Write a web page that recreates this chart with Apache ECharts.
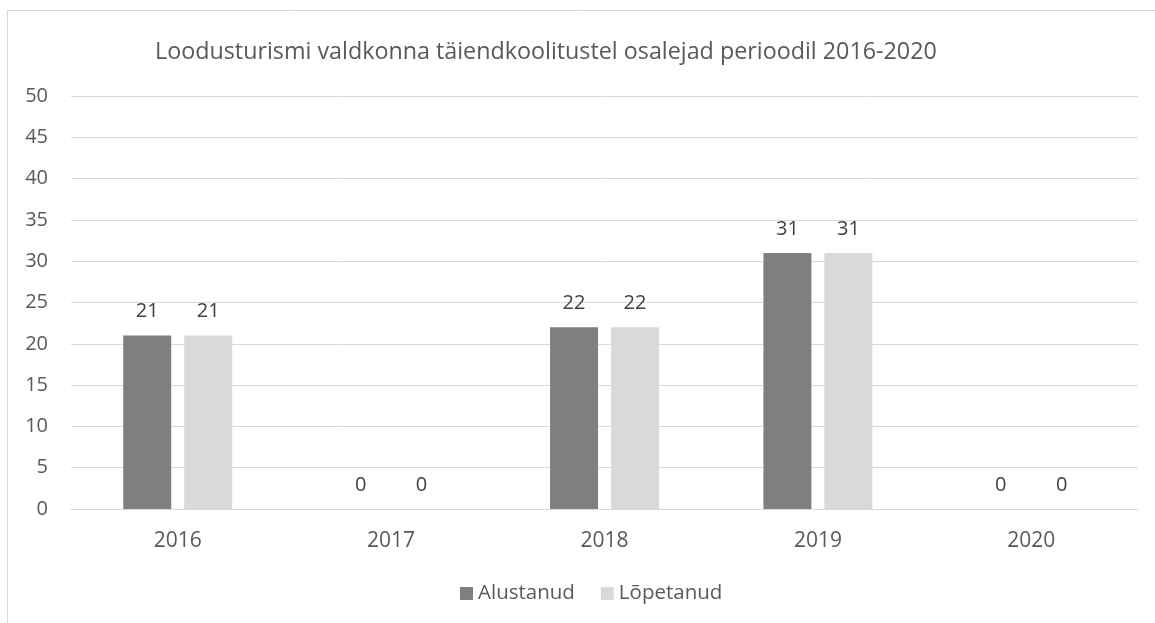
<!DOCTYPE html>
<html>
<head>
<meta charset="utf-8">
<script src="https://cdn.jsdelivr.net/npm/echarts@6/dist/echarts.min.js"></script>
<style>
  html, body { margin: 0; padding: 0; background: #fff; }
  #chart { width: 1155px; height: 623px; }
</style>
</head>
<body>
<div id="chart"></div>
<script>
// Participants in nature-tourism continuing education, 2016-2020
const years = ['2016', '2017', '2018', '2019', '2020'];
const alustanud = [21, 0, 22, 31, 0];
const lopetanud = [21, 0, 22, 31, 0];
const titleText = 'Loodusturismi valdkonna täiendkoolitustel osalejad perioodil 2016-2020';
const seriesNames = ['Alustanud', 'Lõpetanud'];

const FONT = '"Open Sans", "Liberation Sans", sans-serif';
const TEXT = '#595959';

const chart = echarts.init(document.getElementById('chart'), null, { renderer: 'canvas' });

const labelStyle = {
  show: true,
  position: 'top',
  distance: 14,
  color: '#404040',
  fontFamily: FONT,
  fontSize: 20
};

chart.setOption({
  animation: false,
  backgroundColor: '#ffffff',
  graphic: [{
    type: 'rect',
    shape: { x: 7.5, y: 10.5, width: 1200, height: 700 },
    style: { fill: 'none', stroke: '#d9d9d9', lineWidth: 1 },
    silent: true
  }],
  title: {
    text: titleText,
    left: 150,
    top: 36,
    textStyle: { color: TEXT, fontFamily: FONT, fontSize: 23.3, fontWeight: 'normal' }
  },
  legend: {
    top: 578,
    left: 455,
    itemWidth: 13,
    itemHeight: 13,
    itemGap: 26,
    icon: 'rect',
    textStyle: { color: TEXT, fontFamily: FONT, fontSize: 20.5 },
    data: seriesNames
  },
  grid: { left: 71, right: 17, top: 96, bottom: 114 },
  xAxis: {
    type: 'category',
    data: years,
    axisLine: { show: true, lineStyle: { color: '#d9d9d9', width: 1 } },
    axisTick: { show: false },
    axisLabel: { color: TEXT, fontFamily: FONT, fontSize: 21, margin: 22 }
  },
  yAxis: {
    type: 'value',
    min: 0,
    max: 50,
    interval: 5,
    axisLine: { show: false },
    axisTick: { show: false },
    splitLine: { lineStyle: { color: '#d9d9d9', width: 1 } },
    axisLabel: { color: TEXT, fontFamily: FONT, fontSize: 20, margin: 23 }
  },
  series: [
    {
      name: seriesNames[0],
      type: 'bar',
      data: alustanud,
      barWidth: 48,
      barGap: '27%',
      itemStyle: { color: '#7f7f7f' },
      label: labelStyle
    },
    {
      name: seriesNames[1],
      type: 'bar',
      data: lopetanud,
      barWidth: 48,
      barGap: '27%',
      itemStyle: { color: '#d9d9d9' },
      label: labelStyle
    }
  ]
});
</script>
</body>
</html>
